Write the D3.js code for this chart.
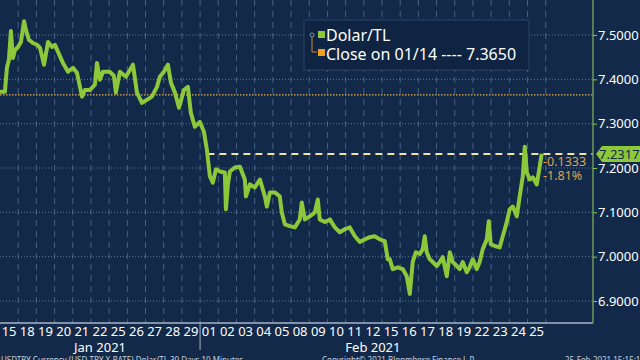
<!DOCTYPE html>
<html>
<head>
<meta charset="utf-8">
<script src="https://cdn.jsdelivr.net/npm/d3@7"></script>
<style>
  body { margin: 0; background: #12294a; }
  svg { display: block; font-family: "Noto Sans", "DejaVu Sans", sans-serif; }
</style>
</head>
<body>
<script>
// trading days shown on the axis
var dayLabels = ["15","18","19","20","21","22","25","26","27","28","29",
                 "01","02","03","04","05","08","09","10","11","12","15","16","17","18","19","22","23","24","25"];
var monthLabels = ["Jan 2021", "Feb 2021"];
var monthStart = [0, 11];
var yTicks = [6.9, 7.0, 7.1, 7.2, 7.3, 7.4, 7.5];

// Dolar/TL, position in trading days since 15 Jan open
var dayPos = [0,0.27,0.38,0.49,0.60,0.71,0.82,0.99,1.15,1.32,1.43,1.59,1.81,2.03,2.20,2.42,2.64,2.86,3.02,3.19,
  3.46,3.74,4.01,4.23,4.51,4.67,4.95,5.22,5.33,5.49,5.66,6.04,6.26,6.37,6.59,6.92,7.31,7.53,7.80,8.08,
  8.35,8.63,8.79,9.01,9.23,9.40,9.62,9.84,10.11,10.33,10.49,10.71,10.99,11.21,11.37,11.54,11.70,11.87,12.09,12.36,
  12.42,12.53,12.64,12.91,13.19,13.46,13.52,13.74,14.01,14.29,14.56,14.67,14.84,15.11,15.38,15.49,15.66,15.93,16.21,16.48,
  16.59,16.76,17.03,17.31,17.47,17.58,17.86,18.13,18.41,18.68,18.96,19.23,19.51,19.78,20.05,20.33,20.60,20.88,21.15,21.32,
  21.43,21.59,21.87,22.14,22.36,22.53,22.69,22.86,23.08,23.24,23.35,23.46,23.63,23.79,24.01,24.18,24.34,24.56,24.73,24.89,
  25.11,25.27,25.44,25.66,25.82,25.99,26.21,26.37,26.54,26.76,26.87,26.98,27.20,27.47,27.64,27.86,28.02,28.19,28.41,28.57,
  28.74,28.85,28.96,29.12,29.29,29.51,29.67,29.78];
var usdtry = [7.372,7.372,7.426,7.444,7.509,7.448,7.466,7.473,7.484,7.531,7.511,7.489,7.482,7.478,7.471,7.433,7.484,7.473,7.478,7.462,
  7.437,7.417,7.426,7.415,7.361,7.376,7.376,7.388,7.437,7.399,7.417,7.417,7.408,7.370,7.417,7.406,7.433,7.370,7.347,7.354,
  7.361,7.383,7.406,7.417,7.433,7.392,7.370,7.336,7.376,7.383,7.325,7.293,7.304,7.282,7.242,7.181,7.167,7.197,7.192,7.190,
  7.107,7.163,7.192,7.201,7.203,7.174,7.136,7.163,7.156,7.174,7.136,7.113,7.145,7.145,7.136,7.100,7.073,7.069,7.066,7.084,
  7.122,7.084,7.091,7.100,7.129,7.084,7.078,7.084,7.066,7.055,7.062,7.066,7.046,7.033,7.039,7.044,7.046,7.039,7.035,6.994,
  6.994,6.972,6.976,6.972,6.956,6.916,6.988,7.010,7.006,7.017,7.046,7.010,6.994,6.988,6.979,6.988,6.999,6.956,7.010,6.988,
  6.979,6.972,6.988,6.965,6.976,6.994,6.972,6.988,7.017,7.039,7.080,7.028,7.024,7.021,7.046,7.078,7.107,7.113,7.091,7.136,
  7.181,7.248,7.190,7.174,7.179,7.163,7.203,7.232];

var closeRef = 7.3650;
var lastPx = 7.2317;
var dashFrom = 11.4;   // dashed last-price line starts here (trading days)
var chg = "-0.1333", chgPct = "-1.81%";

var W = 640, H = 360;
var plotR = 593, plotB = 323;

var svg = d3.select("body").append("svg")
    .attr("width", W)
    .attr("height", H);

svg.append("rect").attr("width", W).attr("height", H).attr("fill", "#12294a");

var x = d3.scaleLinear().domain([0, 32.6]).range([0, plotR]);
var y = d3.scaleLinear().domain([6.9, 7.5]).range([301, 35]);

// grid
svg.append("g").selectAll("line")
    .data(d3.range(1, dayLabels.length + 1))
    .enter().append("line")
    .attr("x1", function (d) { return x(d); })
    .attr("x2", function (d) { return x(d); })
    .attr("y1", 0).attr("y2", plotB)
    .attr("stroke", "#5d7a9c")
    .attr("stroke-width", 1)
    .attr("stroke-dasharray", "6,5")
    .attr("opacity", 0.7);

svg.append("g").selectAll("line")
    .data(yTicks)
    .enter().append("line")
    .attr("x1", 0).attr("x2", plotR)
    .attr("y1", function (d) { return y(d); })
    .attr("y2", function (d) { return y(d); })
    .attr("stroke", "#6f8db0")
    .attr("stroke-width", 1)
    .attr("stroke-dasharray", "1,2")
    .attr("opacity", 0.8);

// close on 01/14
svg.append("line")
    .attr("x1", 0).attr("x2", plotR)
    .attr("y1", y(closeRef)).attr("y2", y(closeRef))
    .attr("stroke", "#e8b04a")
    .attr("stroke-width", 1.2)
    .attr("stroke-dasharray", "1.5,1.5");

// last price dashed line
svg.append("line")
    .attr("x1", x(dashFrom)).attr("x2", plotR)
    .attr("y1", y(lastPx)).attr("y2", y(lastPx))
    .attr("stroke", "#f3e3a0")
    .attr("stroke-width", 2)
    .attr("stroke-dasharray", "7,5");

// price line
var pts = dayPos.map(function (d, i) { return [d, usdtry[i]]; });
var line = d3.line()
    .x(function (d) { return x(d[0]); })
    .y(function (d) { return y(d[1]); });

svg.append("path")
    .datum(pts)
    .attr("d", line)
    .attr("fill", "none")
    .attr("stroke", "#8dc83a")
    .attr("stroke-width", 4)
    .attr("stroke-linejoin", "round");

// frame: bottom + right axis
svg.append("line")
    .attr("x1", 0).attr("x2", plotR)
    .attr("y1", plotB).attr("y2", plotB)
    .attr("stroke", "#a7b6c8").attr("stroke-width", 1.5);
svg.append("line")
    .attr("x1", plotR).attr("x2", plotR)
    .attr("y1", 0).attr("y2", plotB)
    .attr("stroke", "#6f9a5a").attr("stroke-width", 1.5);

// right axis
var yAxis = d3.axisRight(y)
    .tickValues(yTicks)
    .tickSize(4)
    .tickFormat(d3.format(".4f"));
var ya = svg.append("g")
    .attr("transform", "translate(" + plotR + ",0)")
    .call(yAxis);
ya.select(".domain").remove();
ya.selectAll(".tick line").attr("stroke", "#8dc83a");
ya.selectAll(".tick text")
    .attr("fill", "#ffffff")
    .attr("x", 5)
    .style("font-size", "13px")
    .style("font-family", "Noto Sans, sans-serif");

// bottom day labels
var xa = svg.append("g");
xa.selectAll("text")
    .data(dayLabels)
    .enter().append("text")
    .attr("x", function (d, i) { return x(i + 0.5); })
    .attr("y", 336)
    .attr("text-anchor", "middle")
    .attr("fill", "#ffffff")
    .style("font-size", "13px")
    .text(function (d) { return d; });

xa.selectAll(".month")
    .data(monthLabels)
    .enter().append("text")
    .attr("class", "month")
    .attr("x", function (d, i) {
        var a = monthStart[i], b = i + 1 < monthStart.length ? monthStart[i + 1] : dayLabels.length;
        return x((a + b) / 2);
    })
    .attr("y", 352)
    .attr("text-anchor", "middle")
    .attr("fill", "#ffffff")
    .style("font-size", "13px")
    .text(function (d) { return d; });

svg.append("line")
    .attr("x1", x(monthStart[1])).attr("x2", x(monthStart[1]))
    .attr("y1", plotB).attr("y2", 350)
    .attr("stroke", "#a7b6c8").attr("stroke-width", 1);

// last price tag
var tagY = y(lastPx);
svg.append("path")
    .attr("d", "M" + (plotR + 3) + "," + tagY + " L" + (plotR + 9) + "," + (tagY - 8) +
        " L" + W + "," + (tagY - 8) + " L" + W + "," + (tagY + 8) + " L" + (plotR + 9) + "," + (tagY + 8) + "Z")
    .attr("fill", "#8dc83a");
svg.append("text")
    .attr("x", plotR + 6).attr("y", tagY + 5)
    .attr("fill", "#12294a")
    .style("font-size", "13px")
    .text(lastPx.toFixed(4));

// change annotation
svg.append("text")
    .attr("x", 543).attr("y", tagY + 12)
    .attr("fill", "#dca552")
    .style("font-size", "12.5px")
    .text(chg);
svg.append("text")
    .attr("x", 543).attr("y", tagY + 26)
    .attr("fill", "#dca552")
    .style("font-size", "12.5px")
    .text(chgPct);

// legend
var lg = svg.append("g").attr("transform", "translate(304,20)");
lg.append("rect")
    .attr("width", 225).attr("height", 50)
    .attr("fill", "#0e2442")
    .attr("stroke", "#2a4466");
lg.append("circle").attr("cx", 8).attr("cy", 15).attr("r", 2)
    .attr("fill", "none").attr("stroke", "#7f8fb0");
lg.append("path").attr("d", "M8,17 L8,32 L13,32")
    .attr("fill", "none").attr("stroke", "#c98a2c");
lg.append("rect").attr("x", 14).attr("y", 11).attr("width", 7).attr("height", 7).attr("fill", "#8dc83a");
lg.append("rect").attr("x", 14).attr("y", 29).attr("width", 7).attr("height", 7).attr("fill", "#f0a020");
lg.append("text").attr("x", 22).attr("y", 21)
    .attr("fill", "#ffffff").style("font-size", "16px").text("Dolar/TL");
lg.append("text").attr("x", 22).attr("y", 40)
    .attr("fill", "#ffffff").style("font-size", "16px")
    .text("Close on 01/14 ---- " + closeRef.toFixed(4));

// footer
var ft = svg.append("g").style("font-size", "8px").attr("fill", "#c8d0da");
ft.append("text").attr("x", 1).attr("y", 363)
    .text("USDTRY Currency (USD-TRY X-RATE) Dolar/TL 30 Days 10 Minutes");
ft.append("text").attr("x", 322).attr("y", 363)
    .text("Copyright\u00a9 2021 Bloomberg Finance L.P.");
ft.append("text").attr("x", 565).attr("y", 363)
    .text("25-Feb-2021 15:15:17");
</script>
</body>
</html>
